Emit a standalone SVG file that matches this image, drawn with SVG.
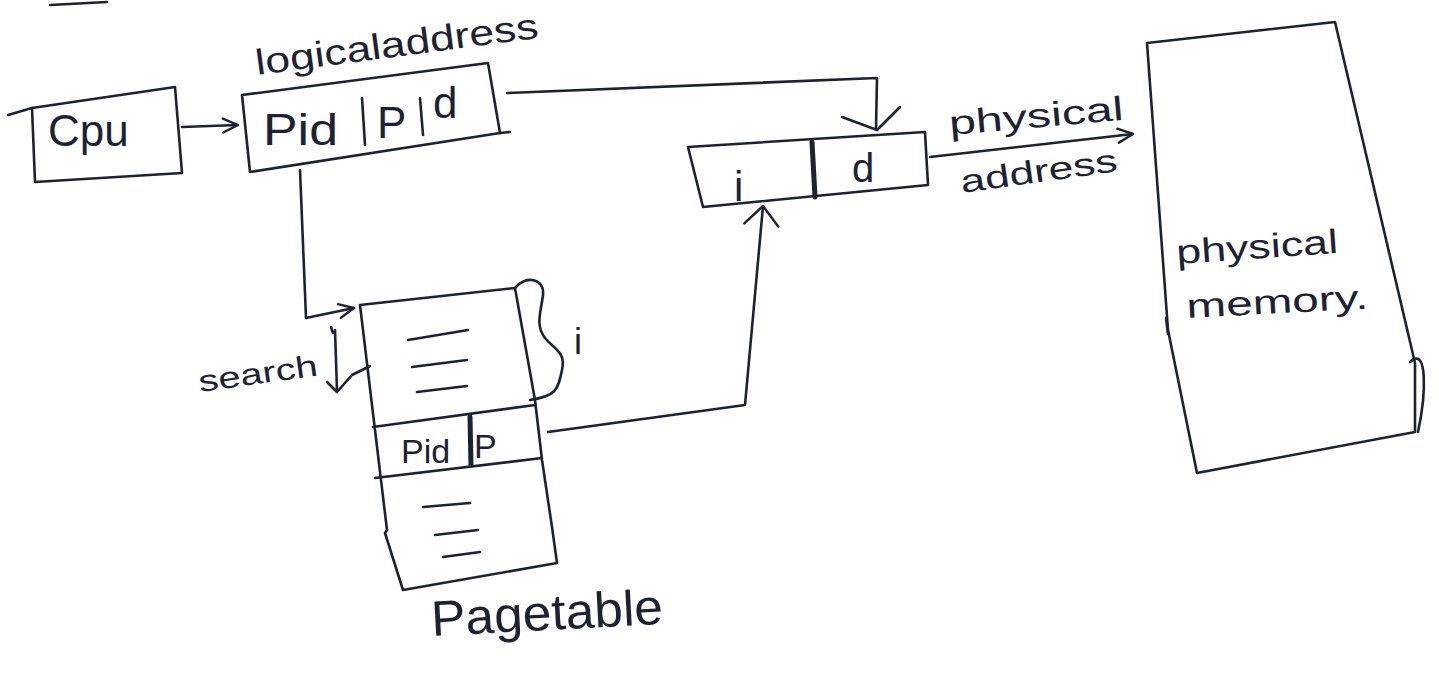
<svg xmlns="http://www.w3.org/2000/svg" width="1439" height="673" viewBox="0 0 1439 673">
<style>
.ink{fill:none;stroke:#1d2233;stroke-width:2.6;stroke-linecap:round;stroke-linejoin:round}
.thick{fill:none;stroke:#1d2233;stroke-width:5;stroke-linecap:round}
.t{font-family:"Liberation Sans","DejaVu Sans",sans-serif;fill:#1d2233}
</style>
<defs>
<marker id="ah" viewBox="0 0 20 20" refX="18" refY="10" markerWidth="20" markerHeight="20" markerUnits="userSpaceOnUse" orient="auto">
<path d="M3,3 L18,10 L3,17" fill="none" stroke="#1d2233" stroke-width="2.4" stroke-linecap="round" stroke-linejoin="round"/>
</marker>
<marker id="ahw" viewBox="0 0 24 40" refX="22" refY="20" markerWidth="24" markerHeight="40" markerUnits="userSpaceOnUse" orient="auto">
<path d="M3,3 L22,20 L3,37" fill="none" stroke="#1d2233" stroke-width="2.4" stroke-linecap="round" stroke-linejoin="round"/>
</marker>
</defs>
<rect width="1439" height="673" fill="#ffffff"/>
<line class="ink" x1="50" y1="5" x2="107" y2="2"/>

<g id="cpu">
<polygon class="ink" points="32,108 175,87 182,173 35,182"/>
<line class="ink" x1="8" y1="115" x2="32" y2="108"/>
<text class="t" x="48" y="146" font-size="44">Cpu</text>
</g>

<g id="logical-address">
<polygon class="ink" points="242,95 488,63 500,133 250,172"/>
<line class="ink" x1="500" y1="133" x2="510" y2="132"/>
<line class="ink" x1="362" y1="98" x2="365" y2="145"/>
<line class="ink" x1="420" y1="98" x2="423" y2="135"/>
<text class="t" x="263" y="145" font-size="44" textLength="75" lengthAdjust="spacingAndGlyphs">Pid</text>
<text class="t" x="377" y="138" font-size="44">P</text>
<text class="t" x="433" y="118" font-size="44">d</text>
<text class="t" x="257" y="75" font-size="36" textLength="285" lengthAdjust="spacingAndGlyphs" transform="rotate(-7.5 257 75)">logicaladdress</text>
</g>

<g id="physical-address">
<polygon class="ink" points="688,147 925,132 928,185 703,207"/>
<line class="thick" x1="812" y1="142" x2="815" y2="197"/>
<text class="t" x="734" y="201" font-size="42">i</text>
<text class="t" x="852" y="182" font-size="40">d</text>
<text class="t" x="950" y="135" font-size="34" textLength="175" lengthAdjust="spacingAndGlyphs" transform="rotate(-5 950 135)">physical</text>
<text class="t" x="962" y="193" font-size="32" textLength="158" lengthAdjust="spacingAndGlyphs" transform="rotate(-8 962 193)">address</text>
</g>

<g id="page-table">
<path class="ink" d="M360,305 L515,288 L535,400 L542,460 L552,527 L557,563 L403,590 L385,533 L387,530 Z"/>
<line class="ink" x1="373" y1="427" x2="535" y2="405"/>
<line class="ink" x1="375" y1="478" x2="542" y2="458"/>
<line class="thick" x1="470" y1="417" x2="471" y2="465"/>
<text class="t" x="401" y="463" font-size="34">Pid</text>
<text class="t" x="474" y="458" font-size="34">P</text>
<line class="ink" x1="408" y1="340" x2="468" y2="330"/>
<line class="ink" x1="412" y1="367" x2="467" y2="360"/>
<line class="ink" x1="417" y1="392" x2="467" y2="386"/>
<line class="ink" x1="423" y1="507" x2="470" y2="503"/>
<line class="ink" x1="435" y1="535" x2="478" y2="530"/>
<line class="ink" x1="443" y1="557" x2="480" y2="552"/>
<text class="t" x="432" y="636" font-size="50" textLength="232" lengthAdjust="spacingAndGlyphs" transform="rotate(-3 432 636)">Pagetable</text>
</g>

<g id="physical-memory">
<polygon class="ink" points="1147,43 1335,22 1415,363 1415,432 1197,473 1168,330"/>
<path class="ink" d="M1410,362 C1428,345 1426,395 1418,432"/>
<line class="ink" x1="1166" y1="318" x2="1168" y2="334"/>
<text class="t" x="1177" y="264" font-size="34" textLength="162" lengthAdjust="spacingAndGlyphs" transform="rotate(-4 1177 264)">physical</text>
<text class="t" x="1187" y="318" font-size="34" textLength="182" lengthAdjust="spacingAndGlyphs" transform="rotate(-3 1187 318)">memory.</text>
</g>

<g id="search-label">
<text class="t" x="200" y="392" font-size="30" textLength="120" lengthAdjust="spacingAndGlyphs" transform="rotate(-8 200 392)">search</text>
<line class="ink" x1="331" y1="327" x2="333" y2="333"/>
</g>

<g id="index-label">
<text class="t" x="574" y="354" font-size="36">i</text>
</g>

<g id="connectors">
<line class="ink" x1="182" y1="127" x2="238" y2="125" marker-end="url(#ah)"/>
<polyline class="ink" points="507,93 877,78 876,129"/>
<path class="ink" d="M842,117 L877,130 L900,107"/>
<polyline class="ink" points="300,170 306,318 354,308" marker-end="url(#ah)"/>
<polyline class="ink" points="548,432 745,405 763,206" marker-end="url(#ahw)"/>
<line class="ink" x1="930" y1="157" x2="1133" y2="134" marker-end="url(#ah)"/>
<line class="ink" x1="335" y1="330" x2="337" y2="391"/>
<path class="ink" d="M327,382 L337,392 L352,375 L370,366"/>
<path class="ink" d="M515,288 C525,275 545,278 543,295 C541,312 535,325 545,338 C555,350 566,352 562,370 C558,390 556,396 530,400"/>
</g>
</svg>
